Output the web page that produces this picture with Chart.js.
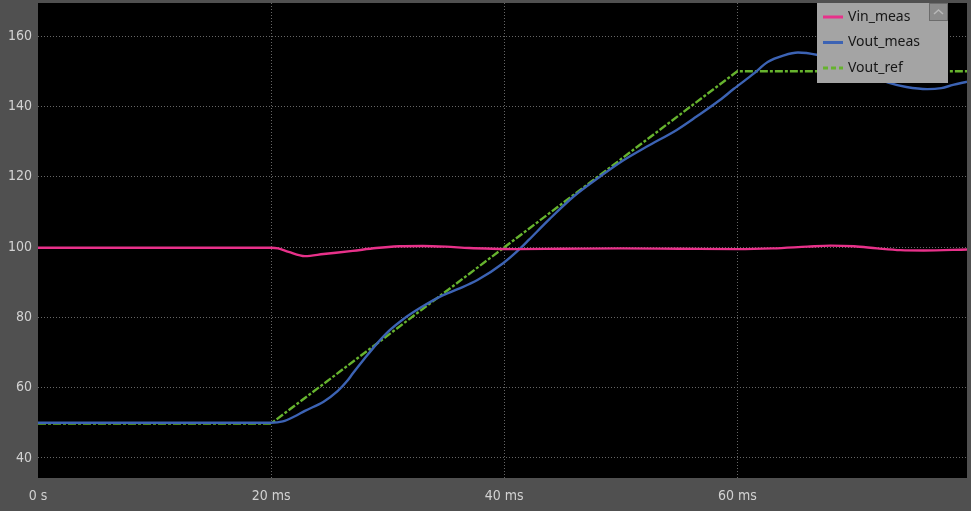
<!DOCTYPE html>
<html>
<head>
<meta charset="utf-8">
<script src="https://cdn.jsdelivr.net/npm/chart.js@4"></script>
<style>
  html, body { margin: 0; padding: 0; background: #505050; }
  #wrap { width: 971px; height: 511px; }
</style>
</head>
<body>
<div id="wrap"><canvas id="scope" width="971" height="511"></canvas></div>
<script>
// time in ms, values in V
const vinTime = [0, 20, 20.6, 21.5, 22.9, 24.5, 27, 29, 31, 33, 35, 37, 39, 41, 45, 50, 55, 60, 63, 66, 68, 70, 72, 74, 76, 79.7];
const vinValues = [99.8, 99.8, 99.6, 98.6, 97.4, 98.0, 98.9, 99.7, 100.2, 100.3, 100.1, 99.7, 99.5, 99.4, 99.5, 99.6, 99.5, 99.4, 99.6, 100.1, 100.4, 100.2, 99.6, 99.1, 99.0, 99.3];

const voutTime = [0, 20, 21, 22, 22.9, 24.5, 25.7, 26.5, 27, 28, 29.1, 30.2, 31.3, 32.8, 34.5, 36, 37.7, 39.9, 41.4, 42.1, 43.9, 46, 48.2, 50, 52.2, 54.8, 56.5, 58.5, 59.7, 61.4, 62.6, 64, 65.2, 66.9, 68.5, 70, 71.5, 73.1, 74.5, 76.3, 77.5, 78.5, 79.7];
const voutValues = [50, 50, 50.4, 51.8, 53.4, 56.0, 59.0, 61.8, 64.0, 68.2, 72.6, 76.4, 79.4, 82.7, 85.9, 88.0, 90.6, 95.4, 99.7, 102.0, 108.0, 114.5, 120.0, 124.2, 128.5, 133.3, 137.1, 141.8, 145.0, 149.3, 152.6, 154.5, 155.3, 154.6, 153.2, 151.0, 148.8, 146.6, 145.5, 144.9, 145.2, 146.1, 147.0];

const refTime = [0, 20, 60, 79.7];
const refValues = [49.8, 49.8, 150, 150];

const xTicks = [0, 20, 40, 60];
const yTicks = [40, 60, 80, 100, 120, 140, 160];

const toPoints = (ts, vs) => ts.map((t, i) => ({ x: t, y: vs[i] }));

const gridColor = "#666666";
const tickFont = { family: "'Liberation Sans Narrow', 'DejaVu Sans Condensed', sans-serif", size: 14 };

// black plot area on gray frame
const plotBackground = {
  id: "plotBackground",
  beforeDraw(chart) {
    const { ctx, chartArea: a } = chart;
    ctx.save();
    ctx.fillStyle = "#505050";
    ctx.fillRect(0, 0, chart.width, chart.height);
    ctx.fillStyle = "#000000";
    ctx.fillRect(a.left, a.top, a.right - a.left, a.bottom - a.top);
    ctx.restore();
  },
};

// legend box in the top right corner of the plot
const scopeLegend = {
  id: "scopeLegend",
  afterDraw(chart) {
    const { ctx, chartArea: a } = chart;
    const w = 131, h = 80;
    const x = a.right - 19 - w, y = a.top;
    ctx.save();
    ctx.fillStyle = "#a4a4a4";
    ctx.fillRect(x, y, w, h);

    // scroll button
    ctx.fillStyle = "#8c8c8c";
    ctx.fillRect(x + w - 19, y, 19, 18);
    ctx.strokeStyle = "#6c6c6c";
    ctx.lineWidth = 1;
    ctx.strokeRect(x + w - 18.5, y + 0.5, 18, 17);
    ctx.strokeStyle = "#b8b8b8";
    ctx.lineWidth = 1.5;
    ctx.beginPath();
    ctx.moveTo(x + w - 14, y + 11);
    ctx.lineTo(x + w - 9.5, y + 7);
    ctx.lineTo(x + w - 5, y + 11);
    ctx.stroke();

    const rows = [17, 42.5, 68];
    ctx.font = "14px 'Noto Sans', sans-serif";
    ctx.textBaseline = "middle";
    chart.data.datasets.forEach((ds, i) => {
      const ry = y + rows[i] - 3;
      ctx.strokeStyle = ds.borderColor;
      ctx.lineWidth = 3;
      ctx.setLineDash(ds.legendDash || []);
      ctx.beginPath();
      ctx.moveTo(x + 6, ry);
      ctx.lineTo(x + 26, ry);
      ctx.stroke();
      ctx.setLineDash([]);
      ctx.fillStyle = "#161616";
      ctx.fillText(ds.label, x + 31, ry);
    });
    ctx.restore();
  },
};

new Chart(document.getElementById("scope"), {
  type: "line",
  data: {
    datasets: [
      {
        label: "Vin_meas",
        data: toPoints(vinTime, vinValues),
        borderColor: "#e8318a",
        borderWidth: 2.4,
        cubicInterpolationMode: "monotone",
      },
      {
        label: "Vout_meas",
        data: toPoints(voutTime, voutValues),
        borderColor: "#3c63b4",
        borderWidth: 2.4,
        cubicInterpolationMode: "monotone",
      },
      {
        label: "Vout_ref",
        data: toPoints(refTime, refValues),
        borderColor: "#66b32e",
        borderWidth: 2.4,
        borderDash: [8, 2, 3, 2],
        legendDash: [5, 3],
        tension: 0,
      },
    ],
  },
  options: {
    responsive: false,
    animation: false,
    elements: { point: { radius: 0 } },
    layout: { padding: { top: 3, right: 4, left: 0, bottom: 0 } },
    plugins: {
      legend: { display: false },
      tooltip: { enabled: false },
    },
    scales: {
      x: {
        type: "linear",
        min: 0,
        max: 79.7,
        afterBuildTicks: (scale) => {
          scale.ticks = xTicks.map((v) => ({ value: v }));
        },
        afterFit: (scale) => {
          scale.height = 33;
          scale.paddingLeft = 0;
          scale.paddingRight = 0;
        },
        border: { display: false, dash: [1, 2] },
        grid: {
          drawTicks: false,
          color: (c) => (c.tick && c.tick.value === 0 ? "transparent" : gridColor),
          lineWidth: 1,
        },
        ticks: {
          color: "#d2d2d2",
          font: tickFont,
          padding: 10,
          maxRotation: 0,
          callback: (v) => (v === 0 ? "0 s" : v + " ms"),
        },
      },
      y: {
        min: 34.3,
        max: 169.4,
        afterBuildTicks: (scale) => {
          scale.ticks = yTicks.map((v) => ({ value: v }));
        },
        afterFit: (scale) => {
          scale.width = 38;
          scale.paddingTop = 0;
          scale.paddingBottom = 0;
        },
        border: { display: false, dash: [1, 2] },
        grid: {
          drawTicks: false,
          color: gridColor,
          lineWidth: 1,
        },
        ticks: {
          color: "#d2d2d2",
          font: tickFont,
          padding: 6,
        },
      },
    },
  },
  plugins: [plotBackground, scopeLegend],
});
</script>
</body>
</html>
